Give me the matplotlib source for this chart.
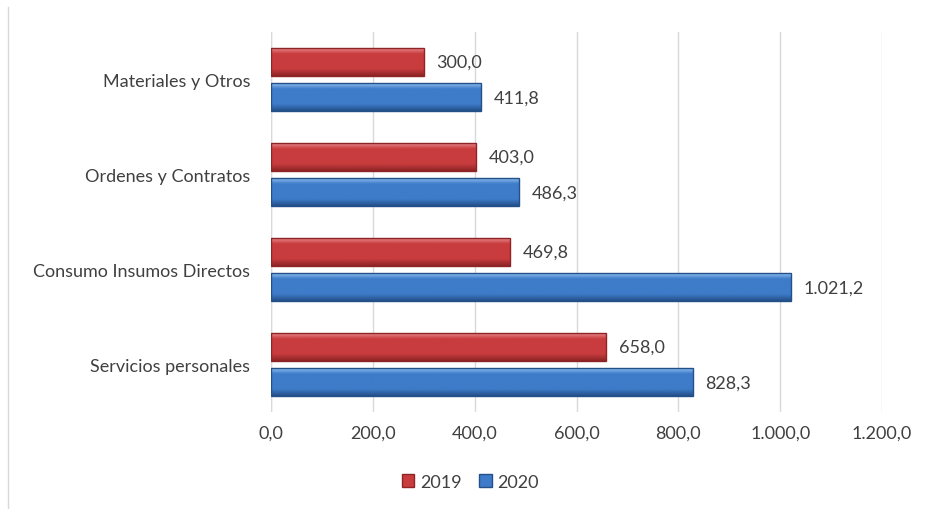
import numpy as np
import matplotlib.pyplot as plt
from matplotlib.lines import Line2D
from matplotlib.patches import Patch
from matplotlib.colors import to_rgb

categorias = ["Servicios personales", "Consumo Insumos Directos",
              "Ordenes y Contratos", "Materiales y Otros"]
valores_2019 = [658.0, 469.8, 403.0, 300.0]
valores_2020 = [828.3, 1021.2, 486.3, 411.8]
ticks_x = [0, 200, 400, 600, 800, 1000, 1200]


def formato_es(v):
    s = f"{v:,.1f}"
    return s.replace(",", "X").replace(".", ",").replace("X", ".")


def degradado(c_claro, c_medio, c_oscuro, n=40):
    # de abajo (oscuro) hacia arriba (claro), como el relieve de Excel
    t = np.linspace(0, 1, n)
    a, b, c = map(np.array, (to_rgb(c_oscuro), to_rgb(c_medio), to_rgb(c_claro)))
    filas = []
    for ti in t:
        if ti < 0.25:
            filas.append(a + (b - a) * ti / 0.25)
        elif ti < 0.8:
            filas.append(b)
        else:
            filas.append(b + (c - b) * (ti - 0.8) / 0.2)
    return np.array(filas)[::-1].reshape(n, 1, 3)


plt.rcParams['font.family'] = ['Lato', 'DejaVu Sans']
gris = '#404040'
fs = 13

fig = plt.figure(figsize=(9.26, 5.10), dpi=100)
ax = fig.add_axes([0.2927, 0.19, 0.6598, 0.745])

y = np.arange(len(categorias))
h = 0.29
sep = 0.04

estilos = {
    '2019': ('#C83C3E', '#E88587', '#8E2426'),
    '2020': ('#3E7CC9', '#8DBDF0', '#24508A'),
}

barras19 = ax.barh(y + h / 2 + sep, valores_2019, height=h, color='none',
                   edgecolor='#8E2426', linewidth=1.0, zorder=4)
barras20 = ax.barh(y - h / 2 - sep, valores_2020, height=h, color='none',
                   edgecolor='#24508A', linewidth=1.0, zorder=4)

for barras, clave in [(barras19, '2019'), (barras20, '2020')]:
    medio, claro, oscuro = estilos[clave]
    grad = degradado(claro, medio, oscuro)
    for b in barras:
        ax.imshow(grad, extent=(0, b.get_width(), b.get_y(), b.get_y() + b.get_height()),
                  aspect='auto', zorder=3, interpolation='bilinear')

for barras, vals in [(barras19, valores_2019), (barras20, valores_2020)]:
    for b, v in zip(barras, vals):
        ax.text(v + 25, b.get_y() + b.get_height() / 2, formato_es(v),
                va='center', ha='left', fontsize=fs, color=gris)

ax.set_xlim(0, 1200)
ax.set_ylim(-0.5, len(categorias) - 0.5)
ax.set_xticks(ticks_x)
ax.set_xticklabels([formato_es(t) for t in ticks_x], fontsize=fs, color=gris)
ax.set_yticks(y)
ax.set_yticklabels(categorias, fontsize=fs, color=gris)
ax.tick_params(axis='y', length=0, pad=15)
ax.tick_params(axis='x', length=0, pad=9)
ax.grid(axis='x', color='#D9D9D9', linewidth=1, zorder=0)
for s in ax.spines.values():
    s.set_visible(False)
ax.axvline(0, color='#D9D9D9', linewidth=1, zorder=1)

handles = [Patch(facecolor='#C83C3E', edgecolor='#8E2426', label='2019'),
           Patch(facecolor='#3E7CC9', edgecolor='#24508A', label='2020')]
fig.legend(handles=handles, loc='center', bbox_to_anchor=(0.508, 0.053),
           ncol=2, frameon=False, fontsize=fs, handlelength=0.7,
           handleheight=0.7, handletextpad=0.3, columnspacing=1.0,
           labelcolor=gris)

fig.add_artist(Line2D([0.009, 0.009], [0.0, 0.985], color='#D9D9D9',
                      linewidth=1, transform=fig.transFigure))

fig.savefig('out.png', dpi=100)
